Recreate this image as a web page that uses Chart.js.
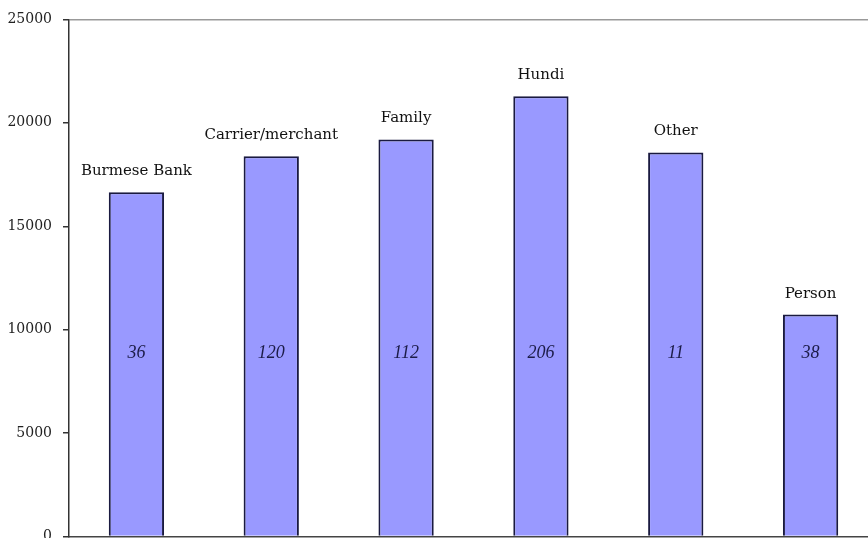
<!DOCTYPE html>
<html>
<head>
<meta charset="utf-8">
<title>Remittance channels</title>
<script src="https://cdn.jsdelivr.net/npm/chart.js@4.4.1/dist/chart.umd.min.js"></script>
<style>
  html, body { margin: 0; padding: 0; background: #fff; }
  #frame { position: absolute; left: 0; top: 0; width: 868px; height: 538px; overflow: hidden; }
  #grafico { position: absolute; left: 0; top: 0; }
</style>
</head>
<body>
<div id="frame">
  <canvas id="grafico" width="882" height="556"></canvas>
</div>
<script>
// Canais de envio: valor médio (barra) e número de casos (dentro da barra)
const canais = ['Burmese Bank', 'Carrier/merchant', 'Family', 'Hundi', 'Other', 'Person'];
const valores = [16650, 18380, 19200, 21280, 18570, 10730];
const casos = ['36', '120', '112', '206', '11', '38'];
const ticksY = [0, 5000, 10000, 15000, 20000, 25000];

// Rótulos: nome acima da barra, nº de casos em itálico numa altura fixa
const rotulosBarras = {
  id: 'rotulosBarras',
  afterDatasetsDraw(chart) {
    const ctx = chart.ctx;
    const meta = chart.getDatasetMeta(0);
    const y = chart.scales.y;
    ctx.save();
    ctx.textAlign = 'center';
    ctx.textBaseline = 'middle';
    meta.data.forEach((bar, i) => {
      ctx.fillStyle = '#111';
      ctx.font = '15px "DejaVu Serif"';
      ctx.fillText(canais[i], bar.x, bar.y - 21);

      ctx.fillStyle = '#1c1c48';
      ctx.font = 'italic 18px "Liberation Serif"';
      ctx.fillText(casos[i], bar.x, y.getPixelForValue(8880));
    });
    ctx.restore();
  }
};

new Chart(document.getElementById('grafico').getContext('2d'), {
  type: 'bar',
  data: {
    labels: canais,
    datasets: [{
      data: valores,
      backgroundColor: '#9999ff',
      borderColor: '#1a1a40',
      borderWidth: 2,
      borderSkipped: 'bottom',
      barPercentage: 0.41,
      categoryPercentage: 1
    }]
  },
  options: {
    responsive: false,
    animation: false,
    layout: { padding: { top: 17, right: 4, bottom: 8, left: 0 } },
    plugins: {
      legend: { display: false },
      tooltip: { enabled: false }
    },
    scales: {
      x: {
        grid: { display: false, drawTicks: false },
        ticks: { display: false },
        border: { display: true, color: '#444', width: 1.5 }
      },
      y: {
        min: 0,
        max: 25000,
        afterBuildTicks: s => { s.ticks = ticksY.map(v => ({ value: v })); },
        afterFit: s => { s.width = 69; },
        grid: {
          color: c => c.tick && c.tick.value === 25000 ? '#999' : 'transparent',
          lineWidth: 1.5,
          tickColor: '#333',
          tickLength: 6
        },
        border: { display: true, color: '#333', width: 1.5 },
        ticks: {
          padding: 11,
          color: '#222',
          font: { family: '"DejaVu Serif"', size: 14 },
          callback: v => String(v)
        }
      }
    }
  },
  plugins: [rotulosBarras]
});
</script>
</body>
</html>
